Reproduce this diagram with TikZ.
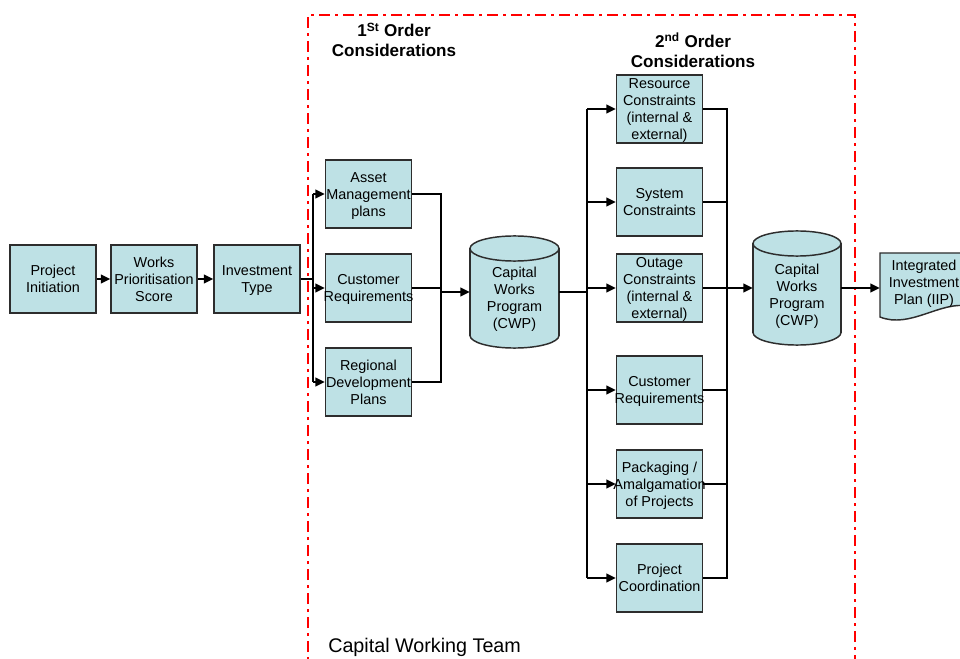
\documentclass[tikz,border=0pt]{standalone}
\usepackage{fontspec}
\setmainfont{Liberation Sans}
\usetikzlibrary{arrows.meta}

\definecolor{boxfill}{RGB}{190,225,229}
\definecolor{boxline}{RGB}{45,45,45}
\definecolor{teamred}{RGB}{255,0,0}

% text lines in a tabular, moved vertically without changing the box size
\newcommand\shiftlines[2]{\raisebox{#1}[\height][\depth]{\begin{tabular}{@{}c@{}}#2\end{tabular}}}
% box text: fixed width, long lines spill evenly over both edges
\newcommand\bx[1]{\makebox[60pt]{\shiftlines{-1.3pt}{#1}}}

% cylinder body: centre x, top y, bottom y, half width (all in picture units)
\newcommand\cylbody[4]{%
  \filldraw[cylline] (#1,#3-12.5) ellipse[x radius=#4*0.75pt, y radius=9.4pt];
  \fill[boxfill] (#1-#4,#2+12.5) rectangle (#1+#4,#3-12.5);
  \draw[cylline] (#1-#4,#2+12.5) -- (#1-#4,#3-12.5) (#1+#4,#2+12.5) -- (#1+#4,#3-12.5);
  \filldraw[cylline] (#1,#2+12.5) ellipse[x radius=#4*0.75pt, y radius=9.4pt];
}

\begin{document}
\begin{tikzpicture}[x=0.75pt,y=-0.75pt,
  conn/.style={line width=1.5pt, black},
  arr/.style={conn, -{Triangle[length=7pt,width=6.5pt]}},
  boxtext/.style={font=\fontsize{10.8}{12.75}\selectfont},
  stepbox/.style={boxtext, draw=boxline, fill=boxfill, line width=1.1pt,
    minimum width=64.5pt, minimum height=51pt, inner sep=0pt},
  cylline/.style={draw=boxline, fill=boxfill, line width=1.1pt},
  holder/.style={boxtext, inner sep=0pt},
  heading/.style={font=\bfseries\fontsize{12.8}{15}\selectfont, align=center},
  teamframe/.style={draw=teamred, line width=2.2pt,
    dash pattern=on 8.25pt off 3.75pt on 2.25pt off 3.75pt},
]
\useasboundingbox (0,0) rectangle (960,659);
\clip (0,0) rectangle (960,659);

% Capital Working Team frame
\draw[teamframe] (308,700) -- (308,15) -- (855,15) -- (855,700);
\node[font=\fontsize{14.8}{17}\selectfont, anchor=west, inner sep=0pt] (team) at (328,647) {Capital Working Team};

% headings
\node[heading] (first) at (394,40) {1\textsuperscript{St} Order\\Considerations};
\node[heading] (second) at (693,50) {2\textsuperscript{nd} Order\\Considerations};

% initial chain
\node[stepbox] (pi)  at (53,279)  {\bx{Project\\Initiation}};
\node[stepbox] (wps) at (154,279) {\bx{Works\\Prioritisation\\Score}};
\node[stepbox] (inv) at (257,279) {\bx{Investment\\Type}};

% first order considerations
\node[stepbox] (am)  at (368.5,194) {\bx{Asset\\Management\\plans}};
\node[stepbox] (cr1) at (368.5,288) {\bx{Customer\\Requirements}};
\node[stepbox] (rd)  at (368.5,382) {\bx{Regional\\Development\\Plans}};

% capital works program (first)
\cylbody{514.5}{236}{348}{44.5}
\node[holder, minimum width=66.75pt, minimum height=84pt] (cwp1) at (514.5,292)
  {\shiftlines{-5.8pt}{Capital\\Works\\Program\\(CWP)}};

% second order considerations
\node[stepbox] (rc)  at (659.5,109) {\bx{Resource\\Constraints\\(internal \&\\external)}};
\node[stepbox] (sc)  at (659.5,202) {\bx{System\\Constraints}};
\node[stepbox] (oc)  at (659.5,288) {\bx{Outage\\Constraints\\(internal \&\\external)}};
\node[stepbox] (cr2) at (659.5,390) {\bx{Customer\\Requirements}};
\node[stepbox] (pk)  at (659.5,484) {\bx{Packaging /\\Amalgamation\\of Projects}};
\node[stepbox] (pc)  at (659.5,578) {\bx{Project\\Coordination}};

% capital works program (second)
\cylbody{797}{231}{345}{44}
\node[holder, minimum width=66pt, minimum height=85.5pt] (cwp2) at (797,288)
  {\shiftlines{-6.2pt}{Capital\\Works\\Program\\(CWP)}};

% integrated investment plan document
\filldraw[cylline] (880,253) -- (968,253) -- (968,306)
  .. controls (940,301) and (910,329) .. (880,317) -- cycle;
\node[holder, minimum width=66pt, minimum height=48pt] (iip) at (924,288)
  {\shiftlines{3pt}{Integrated\\Investment\\Plan (IIP)}};

% bus lines
\coordinate (b1) at (313,0);
\coordinate (b1r) at (441,0);
\coordinate (b2) at (587,0);
\coordinate (b3) at (727,0);

% connectors
\draw[arr] (pi) -- (wps);
\draw[arr] (wps) -- (inv);
\draw[conn] (inv) -- (inv -| b1);
\draw[conn] (b1 |- am) -- (b1 |- rd);
\foreach \n in {am,cr1,rd} \draw[arr] (b1 |- \n) -- (\n);
\draw[conn] (am) -| (b1r |- rd) -- (rd);
\draw[conn] (cr1) -- (cr1 -| b1r);
\draw[arr] (cwp1 -| b1r) -- (cwp1);

\draw[conn] (cwp1) -- (cwp1 -| b2);
\draw[conn] (b2 |- rc) -- (b2 |- pc);
\foreach \n in {rc,sc,oc,cr2,pk,pc} \draw[arr] (b2 |- \n) -- (\n);
\draw[conn] (rc) -| (b3 |- pc) -- (pc);
\foreach \n in {sc,oc,cr2,pk} \draw[conn] (\n) -- (\n -| b3);
\draw[arr] (cwp2 -| b3) -- (cwp2);
\draw[arr] (cwp2) -- (iip);
\end{tikzpicture}
\end{document}
